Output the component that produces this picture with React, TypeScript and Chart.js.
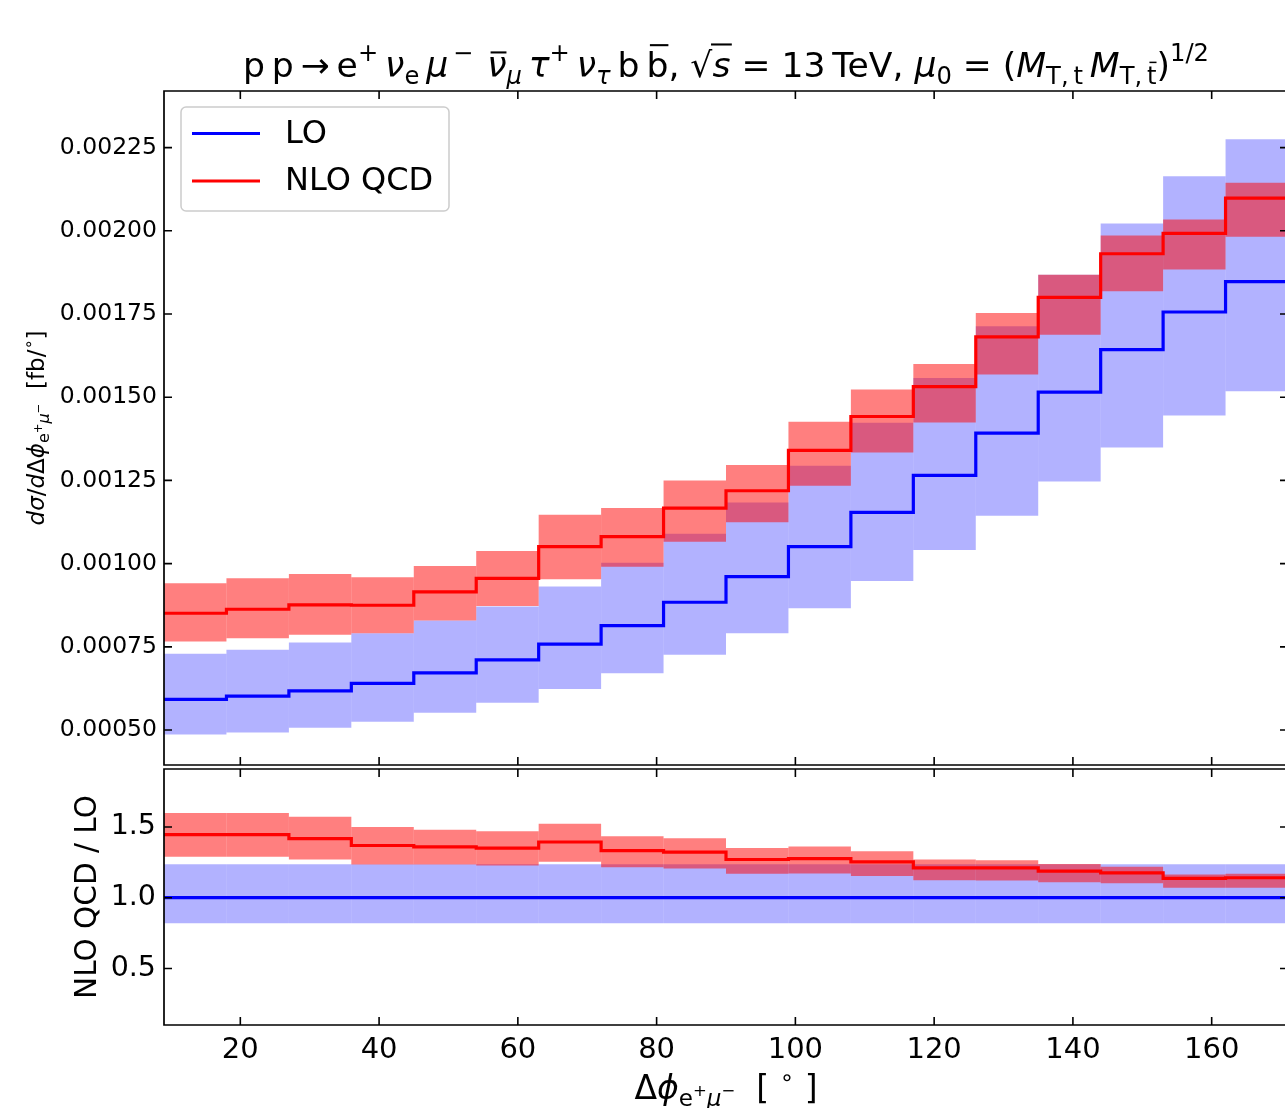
import React, { useEffect, useRef } from 'react';
import { Chart, registerables } from 'chart.js';

Chart.register(...registerables);

const FONT = '"DejaVu Sans", "Liberation Sans", sans-serif';

// ---------------- data ----------------
const binStart = [9, 18, 27, 36, 45, 54, 63, 72, 81, 90, 99, 108, 117, 126, 135, 144, 153, 162];
const binWidth = 9;
const xTicks = [20, 40, 60, 80, 100, 120, 140, 160];
const topYTicks = [0.0005, 0.00075, 0.001, 0.00125, 0.0015, 0.00175, 0.002, 0.00225];
const ratioYTicks = [0.5, 1.0, 1.5];

const loCentral = [0.000592, 0.000602, 0.000618, 0.00064, 0.000672, 0.000711, 0.000758, 0.000814, 0.000884, 0.000961, 0.001051, 0.001154, 0.001265, 0.001392, 0.001515, 0.001643, 0.001756, 0.001847];
const loUpper = [0.000729, 0.000741, 0.000763, 0.000791, 0.000829, 0.000871, 0.000931, 0.001003, 0.00109, 0.001184, 0.001294, 0.001423, 0.001558, 0.001713, 0.001868, 0.002022, 0.002164, 0.002275];
const loLower = [0.000487, 0.000493, 0.000507, 0.000525, 0.000552, 0.000582, 0.000623, 0.000671, 0.000726, 0.000791, 0.000866, 0.000948, 0.001041, 0.001144, 0.001247, 0.001349, 0.001445, 0.001518];
const nloCentral = [0.000851, 0.000863, 0.000876, 0.000875, 0.000915, 0.000956, 0.001051, 0.001081, 0.001167, 0.001219, 0.00134, 0.001442, 0.001532, 0.001681, 0.0018, 0.001931, 0.001992, 0.002098];
const nloUpper = [0.000941, 0.000956, 0.000969, 0.000959, 0.000993, 0.001038, 0.001147, 0.001167, 0.00125, 0.001296, 0.001426, 0.001523, 0.0016, 0.001753, 0.001868, 0.001986, 0.002034, 0.002144];
const nloLower = [0.000766, 0.000776, 0.000786, 0.000791, 0.000829, 0.000873, 0.000953, 0.000991, 0.001066, 0.001124, 0.001234, 0.001334, 0.001424, 0.001568, 0.001688, 0.001818, 0.001884, 0.001982];

const ratioLoCentral = [1, 1, 1, 1, 1, 1, 1, 1, 1, 1, 1, 1, 1, 1, 1, 1, 1, 1];
const ratioLoUpper = [1.237, 1.237, 1.237, 1.237, 1.237, 1.237, 1.237, 1.237, 1.237, 1.237, 1.237, 1.237, 1.237, 1.237, 1.237, 1.237, 1.237, 1.237];
const ratioLoLower = [0.82, 0.82, 0.82, 0.82, 0.82, 0.82, 0.82, 0.82, 0.82, 0.82, 0.82, 0.82, 0.82, 0.82, 0.82, 0.82, 0.82, 0.82];
const ratioNloCentral = [1.446, 1.446, 1.418, 1.369, 1.359, 1.35, 1.394, 1.333, 1.322, 1.27, 1.277, 1.254, 1.211, 1.211, 1.188, 1.176, 1.136, 1.141];
const ratioNloUpper = [1.599, 1.599, 1.573, 1.5, 1.481, 1.469, 1.523, 1.434, 1.42, 1.352, 1.362, 1.329, 1.27, 1.265, 1.239, 1.218, 1.164, 1.169];
const ratioNloLower = [1.289, 1.289, 1.27, 1.235, 1.235, 1.228, 1.254, 1.216, 1.207, 1.169, 1.171, 1.153, 1.124, 1.122, 1.11, 1.103, 1.07, 1.07];

const LO_COLOR = '#0000ff';
const NLO_COLOR = '#ff0000';
const LO_BAND = 'rgba(0,0,255,0.3)';
const NLO_BAND = 'rgba(255,0,0,0.5)';

// ---------------- helpers ----------------
function stepPoints(vals: number[]) {
  const pts: { x: number; y: number }[] = [];
  binStart.forEach((x, i) => {
    pts.push({ x, y: vals[i] });
    pts.push({ x: x + binWidth, y: vals[i] });
  });
  return pts;
}
function bandPoints(lo: number[], hi: number[]) {
  return binStart.map((x, i) => ({ x: x + binWidth / 2, y: [lo[i], hi[i]] }));
}

type Run = { t: string; s?: number; it?: boolean; dy?: number; bar?: number; rad?: boolean };
const SUP = { s: 0.7, dy: 0.45 };
const SUB = { s: 0.7, dy: -0.2 };
const TS = '\u2009';
const PHI = '\u03d5';

function fontFor(size: number, it?: boolean) {
  return `${it ? 'italic ' : ''}${size}px ${FONT}`;
}
function drawRuns(ctx: CanvasRenderingContext2D, runs: Run[], base: number, x: number, y: number, align: 'left' | 'center') {
  let total = 0;
  for (const r of runs) {
    ctx.font = fontFor(base * (r.s ?? 1), r.it);
    total += ctx.measureText(r.t).width;
  }
  let cx = align === 'center' ? x - total / 2 : x;
  ctx.textAlign = 'left';
  ctx.textBaseline = 'alphabetic';
  for (const r of runs) {
    const size = base * (r.s ?? 1);
    ctx.font = fontFor(size, r.it);
    const w = ctx.measureText(r.t).width;
    const by = y - (r.dy ?? 0) * base;
    ctx.fillText(r.t, cx, by);
    if (r.bar != null) {
      const th = Math.max(1.5, size * 0.06);
      const yy = by - r.bar * size;
      if (r.rad) ctx.fillRect(cx - 0.04 * size, yy, w + 0.08 * size, th);
      else ctx.fillRect(cx + 0.1 * size, yy, w - 0.1 * size, th);
    }
    cx += w;
  }
}

const titleRuns: Run[] = [
  { t: 'p' + TS + 'p' + TS + '\u2192' + TS + 'e' },
  { t: '+', ...SUP },
  { t: TS },
  { t: '\u03bd', it: true },
  { t: 'e', ...SUB },
  { t: TS },
  { t: '\u03bc', it: true },
  { t: TS + '\u2212', ...SUP },
  { t: TS + TS },
  { t: '\u03bd', it: true, bar: 0.74 },
  { t: '\u03bc', it: true, ...SUB },
  { t: TS },
  { t: '\u03c4', it: true },
  { t: '+', ...SUP },
  { t: TS },
  { t: '\u03bd', it: true },
  { t: '\u03c4', it: true, ...SUB },
  { t: TS + 'b' + TS },
  { t: 'b', bar: 0.95 },
  { t: ', ' },
  { t: '\u221a' },
  { t: 's', it: true, bar: 0.97, rad: true },
  { t: ' = 13' + TS + 'TeV, ' },
  { t: '\u03bc', it: true },
  { t: '0', ...SUB },
  { t: ' = (' },
  { t: 'M', it: true },
  { t: 'T,' + TS + 't', ...SUB },
  { t: TS },
  { t: 'M', it: true },
  { t: 'T,' + TS, ...SUB },
  { t: 't', ...SUB, bar: 0.92 },
  { t: ')' },
  { t: '1/2', ...SUP },
];

const yLabelRuns: Run[] = [
  { t: 'd', it: true },
  { t: '\u03c3', it: true },
  { t: '/' },
  { t: 'd', it: true },
  { t: '\u0394' },
  { t: PHI, it: true },
  { t: 'e', s: 0.7, dy: -0.22 },
  { t: '+', s: 0.5, dy: 0.1 },
  { t: '\u03bc', it: true, s: 0.7, dy: -0.22 },
  { t: '\u2212', s: 0.5, dy: 0.1 },
  { t: '  [fb/' },
  { t: '\u2218', s: 0.7, dy: 0.42 },
  { t: ']' },
];

const xLabelRuns: Run[] = [
  { t: '\u0394' },
  { t: PHI, it: true },
  { t: 'e', s: 0.7, dy: -0.22 },
  { t: '+', s: 0.5, dy: 0.1 },
  { t: '\u03bc', it: true, s: 0.7, dy: -0.22 },
  { t: '\u2212', s: 0.5, dy: 0.1 },
  { t: '  [ ' },
  { t: '\u2218', s: 0.7, dy: 0.42 },
  { t: ' ]' },
];

function drawFrame(chart: any, xt: number[], yt: number[]) {
  const { ctx, chartArea: a, scales } = chart;
  ctx.save();
  ctx.strokeStyle = '#000';
  ctx.lineWidth = 1.7;
  ctx.beginPath();
  ctx.rect(a.left, a.top, a.right - a.left, a.bottom - a.top);
  ctx.stroke();
  ctx.lineWidth = 1.6;
  ctx.beginPath();
  const L = 8;
  for (const v of xt) {
    const px = scales.x.getPixelForValue(v);
    ctx.moveTo(px, a.bottom);
    ctx.lineTo(px, a.bottom - L);
    ctx.moveTo(px, a.top);
    ctx.lineTo(px, a.top + L);
  }
  for (const v of yt) {
    const py = scales.y.getPixelForValue(v);
    ctx.moveTo(a.left, py);
    ctx.lineTo(a.left + L, py);
    ctx.moveTo(a.right, py);
    ctx.lineTo(a.right - L, py);
  }
  ctx.stroke();
  ctx.restore();
}

const topDecor = {
  id: 'topDecor',
  afterDraw(chart: any) {
    const { ctx, chartArea: a } = chart;
    drawFrame(chart, xTicks, topYTicks);
    ctx.save();
    // legend
    const lx = a.left + 17, ly = a.top + 16, lw = 268, lh = 104;
    ctx.beginPath();
    (ctx as any).roundRect(lx, ly, lw, lh, 5);
    ctx.fillStyle = 'rgba(255,255,255,0.8)';
    ctx.fill();
    ctx.strokeStyle = '#cccccc';
    ctx.lineWidth = 1.5;
    ctx.stroke();
    const entries = chart.data.datasets.filter((d: any) => d.type === 'line');
    entries.forEach((d: any, i: number) => {
      const yy = ly + 26.5 + i * 47.5;
      ctx.strokeStyle = d.borderColor;
      ctx.lineWidth = 3.2;
      ctx.beginPath();
      ctx.moveTo(lx + 11, yy);
      ctx.lineTo(lx + 79, yy);
      ctx.stroke();
      ctx.fillStyle = '#000';
      ctx.font = `32px ${FONT}`;
      ctx.textAlign = 'left';
      ctx.textBaseline = 'middle';
      ctx.fillText(d.label, lx + 104, yy + 1);
    });
    // title
    ctx.fillStyle = '#000';
    drawRuns(ctx, titleRuns, 34.6, (a.left + a.right) / 2, a.top - 14, 'center');
    // y label
    ctx.translate(a.left - 120, (a.top + a.bottom) / 2);
    ctx.rotate(-Math.PI / 2);
    drawRuns(ctx, yLabelRuns, 23, 0, 0, 'center');
    ctx.restore();
  },
};

const bottomDecor = {
  id: 'bottomDecor',
  afterDraw(chart: any) {
    const { ctx, chartArea: a } = chart;
    drawFrame(chart, xTicks, ratioYTicks);
    ctx.save();
    ctx.fillStyle = '#000';
    drawRuns(ctx, xLabelRuns, 33, (a.left + a.right) / 2, a.bottom + 74, 'center');
    ctx.translate(a.left - 68, (a.top + a.bottom) / 2);
    ctx.rotate(-Math.PI / 2);
    ctx.font = `29.5px ${FONT}`;
    ctx.textAlign = 'center';
    ctx.textBaseline = 'alphabetic';
    ctx.fillText('NLO QCD / LO', 0, 0);
    ctx.restore();
  },
};

function makeDatasets(loC: number[], loU: number[], loL: number[], nC: number[], nU: number[], nL: number[]) {
  const band = { type: 'bar', borderWidth: 0, barPercentage: 1, categoryPercentage: 1, grouped: false, inflateAmount: 0 };
  const line = { type: 'line', borderWidth: 3.2, pointRadius: 0, fill: false, tension: 0, borderJoinStyle: 'miter' };
  return [
    { ...band, label: 'LO band', data: bandPoints(loL, loU), backgroundColor: LO_BAND, order: 4 },
    { ...band, label: 'NLO band', data: bandPoints(nL, nU), backgroundColor: NLO_BAND, order: 3 },
    { ...line, label: 'LO', data: stepPoints(loC), borderColor: LO_COLOR, order: 2 },
    { ...line, label: 'NLO QCD', data: stepPoints(nC), borderColor: NLO_COLOR, order: 1 },
  ];
}

function zeroPad(s: any) {
  s.paddingTop = 0;
  s.paddingBottom = 0;
  s.paddingLeft = 0;
  s.paddingRight = 0;
}

export default function App() {
  const topRef = useRef<HTMLCanvasElement | null>(null);
  const botRef = useRef<HTMLCanvasElement | null>(null);

  useEffect(() => {
    if (!topRef.current || !botRef.current) return;
    const xScaleBase = {
      type: 'linear',
      min: 9,
      max: 171,
      offset: false,
      afterBuildTicks: (s: any) => {
        s.ticks = xTicks.map((v) => ({ value: v }));
      },
    };
    const top = new Chart(topRef.current, {
      type: 'bar',
      data: { datasets: makeDatasets(loCentral, loUpper, loLower, nloCentral, nloUpper, nloLower) as any },
      options: {
        responsive: false,
        maintainAspectRatio: false,
        animation: false,
        events: [],
        layout: { padding: { top: 91, right: 12, bottom: 2, left: 0 } },
        plugins: { legend: { display: false }, tooltip: { enabled: false }, title: { display: false } },
        scales: {
          x: { ...xScaleBase, display: false, afterFit: zeroPad } as any,
          y: {
            type: 'linear',
            min: 0.000395,
            max: 0.00242,
            afterBuildTicks: (s: any) => {
              s.ticks = topYTicks.map((v) => ({ value: v }));
            },
            afterFit: (s: any) => {
              s.width = 164;
              zeroPad(s);
            },
            grid: { display: false, drawTicks: false },
            border: { display: false },
            ticks: {
              color: '#000',
              padding: 7,
              font: { family: FONT, size: 23.5 },
              callback: (v: any) => Number(v).toFixed(5),
            },
          },
        },
      },
      plugins: [topDecor],
    });
    const bot = new Chart(botRef.current, {
      type: 'bar',
      data: { datasets: makeDatasets(ratioLoCentral, ratioLoUpper, ratioLoLower, ratioNloCentral, ratioNloUpper, ratioNloLower) as any },
      options: {
        responsive: false,
        maintainAspectRatio: false,
        animation: false,
        events: [],
        layout: { padding: { top: 3, right: 12, bottom: 0, left: 0 } },
        plugins: { legend: { display: false }, tooltip: { enabled: false }, title: { display: false } },
        scales: {
          x: {
            ...xScaleBase,
            display: true,
            afterFit: (s: any) => {
              s.height = 83;
              zeroPad(s);
            },
            grid: { display: false, drawTicks: false },
            border: { display: false },
            ticks: {
              color: '#000',
              padding: 8,
              maxRotation: 0,
              autoSkip: false,
              font: { family: FONT, size: 29 },
              callback: (v: any) => String(v),
            },
          } as any,
          y: {
            type: 'linear',
            min: 0.1,
            max: 1.91,
            afterBuildTicks: (s: any) => {
              s.ticks = ratioYTicks.map((v) => ({ value: v }));
            },
            afterFit: (s: any) => {
              s.width = 164;
              zeroPad(s);
            },
            grid: { display: false, drawTicks: false },
            border: { display: false },
            ticks: {
              color: '#000',
              padding: 8,
              font: { family: FONT, size: 28.5 },
              callback: (v: any) => Number(v).toFixed(1),
            },
          },
        },
      },
      plugins: [bottomDecor],
    });
    return () => {
      top.destroy();
      bot.destroy();
    };
  }, []);

  return (
    <div style={{ position: 'fixed', left: 0, top: 0, width: 1285, height: 1108, overflow: 'hidden', background: '#fff' }}>
      <canvas ref={topRef} width={1300} height={767} style={{ position: 'absolute', left: 0, top: 0, width: 1300, height: 767 }} />
      <canvas ref={botRef} width={1300} height={342} style={{ position: 'absolute', left: 0, top: 766, width: 1300, height: 342 }} />
    </div>
  );
}
